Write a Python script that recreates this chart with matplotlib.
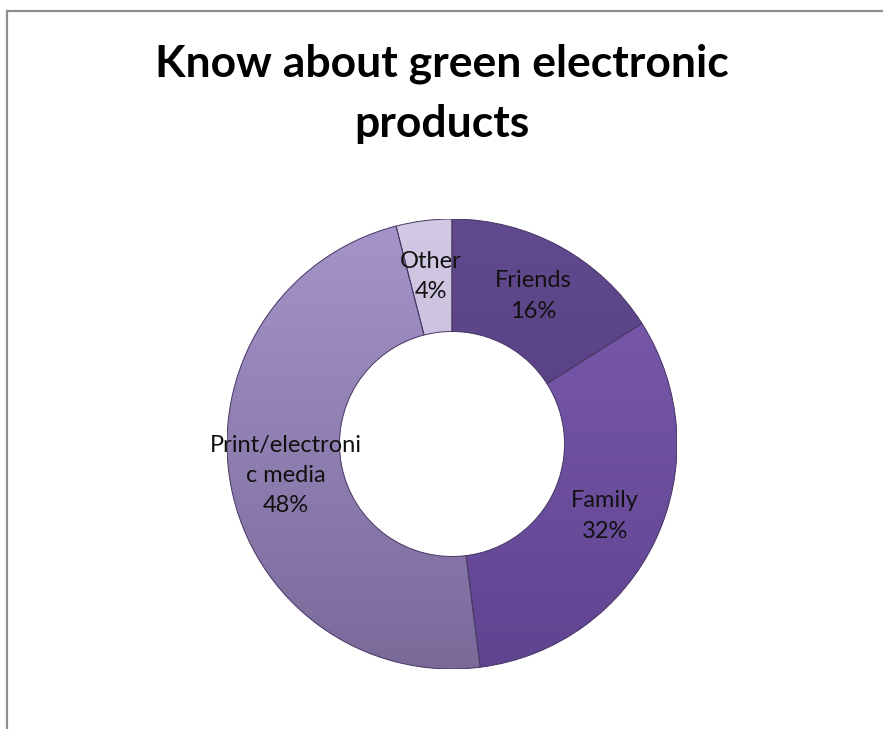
import numpy as np
import matplotlib
matplotlib.use("Agg")
import matplotlib.pyplot as plt
from matplotlib.lines import Line2D
from matplotlib.patches import Wedge
from matplotlib.colors import to_rgb

categories = ["Friends", "Family", "Print/electroni\nc media", "Other"]
shares = [16, 32, 48, 4]
colors = ["#5a4286", "#7755a5", "#9380b8", "#c8bedc"]
# lighter (top) and darker (bottom) shades for the soft vertical shading
tops = ["#624a90", "#7e5cb0", "#a594c8", "#d2cae4"]
bottoms = ["#4c3674", "#5f4490", "#7a6a9a", "#b9aed0"]
title = "Know about green electronic\nproducts"

plt.rcParams["font.family"] = ["Lato", "DejaVu Sans"]

W, H = 883, 729
fig = plt.figure(figsize=(W / 100, H / 100), dpi=100)
fig.patch.set_facecolor("white")

# chart-area frame (left and top edges)
fig.add_artist(Line2D([7.5 / W, 7.5 / W], [0, 1 - 10.5 / H], transform=fig.transFigure,
                      color="#8f8f8f", lw=1.6))
fig.add_artist(Line2D([7.5 / W, 1], [1 - 10.5 / H, 1 - 10.5 / H], transform=fig.transFigure,
                      color="#8f8f8f", lw=1.6))

cx, cy, r = 452, 444, 225
ax = fig.add_axes([(cx - r) / W, (H - cy - r) / H, 2 * r / W, 2 * r / H])
wedges, _ = ax.pie(shares, colors=colors, startangle=90, counterclock=False,
                   radius=1.0, wedgeprops=dict(width=0.5, edgecolor="none"))

t = np.linspace(0, 1, 256)[:, None]
for w, c_top, c_bot in zip(wedges, tops, bottoms):
    a, b = np.array(to_rgb(c_top)), np.array(to_rgb(c_bot))
    grad = a[None, None, :] * (1 - t[:, :, None]) + b[None, None, :] * t[:, :, None]
    grad = np.repeat(grad, 2, axis=1)
    im = ax.imshow(grad, extent=[-1, 1, -1, 1], origin="upper", aspect="auto",
                   interpolation="bilinear", zorder=2)
    im.set_clip_path(w)

# slice outlines above the shading
for w in wedges:
    ax.add_patch(Wedge(w.center, w.r, w.theta1, w.theta2, width=w.width,
                       facecolor="none", edgecolor="#4a3a66", linewidth=0.7, zorder=5))

ax.set_xlim(-1, 1)
ax.set_ylim(-1, 1)
ax.set_aspect("equal")
ax.axis("off")

for w, cat, val in zip(wedges, categories, shares):
    mid = np.deg2rad((w.theta1 + w.theta2) / 2)
    x, y = 0.75 * np.cos(mid), 0.75 * np.sin(mid)
    ax.text(x, y, f"{cat}\n{val}%", ha="center", va="center", fontsize=17,
            color="#111111", linespacing=1.55, zorder=10)

fig.text(0.5, 1 - 94 / H, title, ha="center", va="center", fontsize=32,
         fontweight="bold", color="black", linespacing=1.6)

fig.savefig("out.png", dpi=100, facecolor="white")
